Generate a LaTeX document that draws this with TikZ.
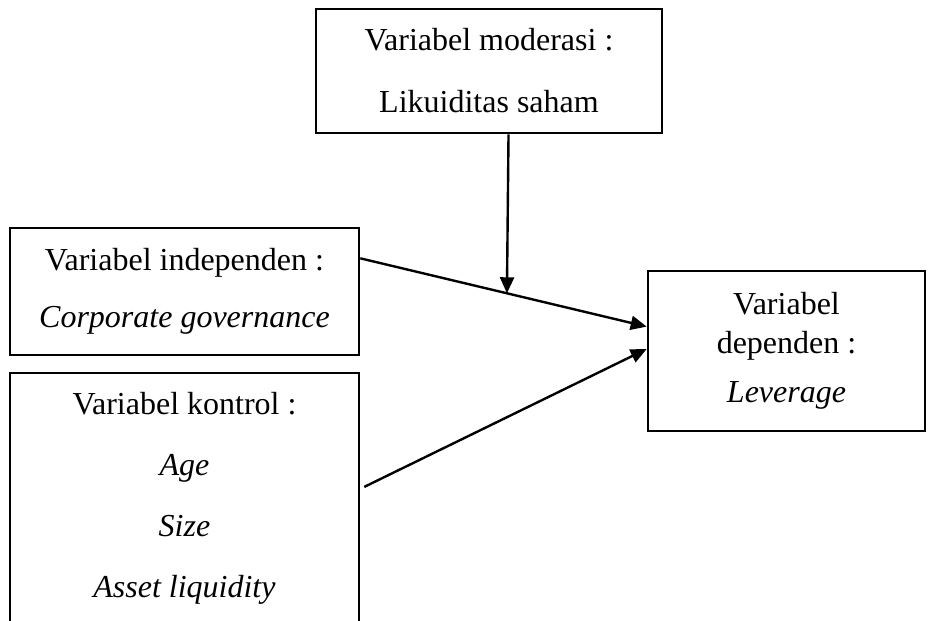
\documentclass[tikz,border=0pt]{standalone}
\usepackage{fontspec}
\setmainfont{Liberation Serif}
\usetikzlibrary{arrows.meta,calc}

\begin{document}
\begin{tikzpicture}[x=0.5pt, y=-0.5pt,
    box/.style={draw, line width=1.3pt, align=center, inner sep=0pt, font=\fontsize{16}{30.5}\selectfont},
    link/.style={line width=1.2pt, -{Triangle[length=8pt,width=7pt]}}]
    \useasboundingbox (0,0) rectangle (928,621);

    % Moderating variable
    \node[box, minimum width=173pt, minimum height=62pt] (moderasi) at (489,71) {Variabel moderasi :\\[0.5pt]Likuiditas saham};

    % Independent and control variables
    \node[box, minimum width=174.5pt, minimum height=63.5pt] (indep) at (184.5,291.5) {Variabel independen :\\[-2pt]\textit{Corporate governance}};
    \node[box, minimum width=174.5pt, minimum height=125pt] (kontrol) at (184.5,498) {Variabel kontrol :\\\textit{Age}\\\textit{Size}\\\textit{Asset liquidity}};

    % Dependent variable
    \node[box, minimum width=138.5pt, minimum height=80pt, font=\fontsize{16}{19.5}\selectfont] (dep) at (786.5,351) {Variabel\\dependen :\\[5pt]\textit{Leverage}};

    % Arrows into the dependent variable
    \coordinate (indepout) at ($(indep.north east)!0.244!(indep.south east)$);
    \coordinate (depin1) at ($(dep.north west)!0.35!(dep.south west)$);
    \draw[link] (indepout) -- (depin1);
    \coordinate (kontrolout) at ($(kontrol.north east)!0.456!(kontrol.south east)+(4,0)$);
    \coordinate (depin2) at ($(dep.north west)!0.4875!(dep.south west)$);
    \draw[link] (kontrolout) -- (depin2);

    % Moderating arrow onto the first link
    \coordinate (modout) at ($(moderasi.south west)!0.556!(moderasi.south east)$);
    \coordinate (meet) at ($(indepout)!0.512!(depin1)$);
    \draw[link] (modout) -- (meet);
\end{tikzpicture}
\end{document}
